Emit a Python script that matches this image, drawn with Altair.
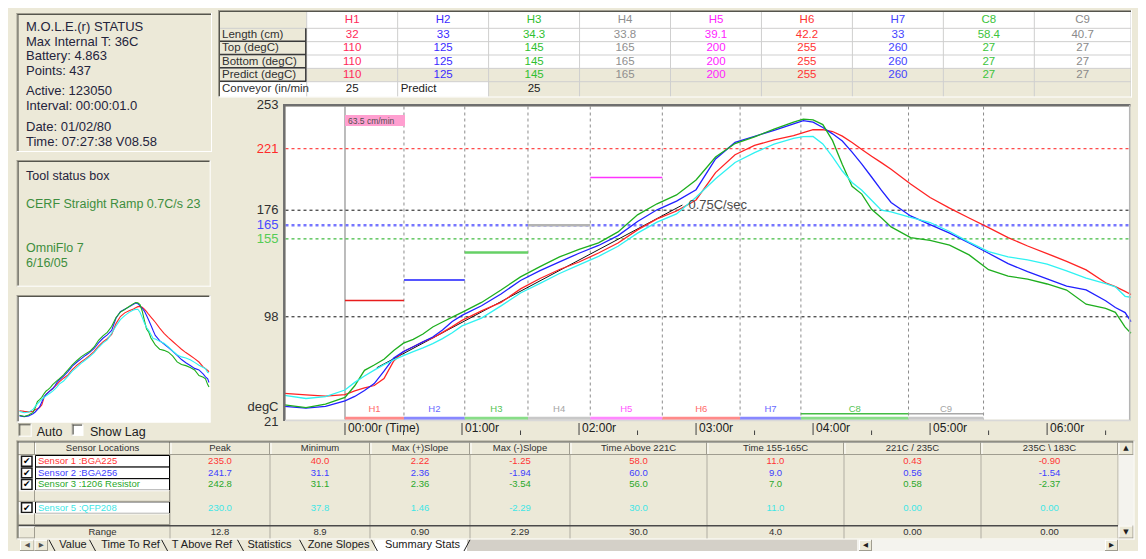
import altair as alt
import numpy as np
import pandas as pd

# ============================ DATA ============================
status_block_1 = ["M.O.L.E.(r) STATUS", "Max Internal T: 36C", "Battery: 4.863", "Points: 437"]
status_block_2 = ["Active: 123050", "Interval: 00:00:01.0"]
status_block_3 = ["Date: 01/02/80", "Time: 07:27:38  V08.58"]
tool_title = "Tool status box"
tool_recipe = "CERF Straight Ramp 0.7C/s 23"
tool_oven = ["OmniFlo 7", "6/16/05"]
checkbox_labels = ["Auto", "Show Lag"]

zones = ["H1", "H2", "H3", "H4", "H5", "H6", "H7", "C8", "C9"]
zone_length_cm = [32, 33, 34.3, 33.8, 39.1, 42.2, 33, 58.4, 40.7]
zone_top_c = [110, 125, 145, 165, 200, 255, 260, 27, 27]
zone_bottom_c = [110, 125, 145, 165, 200, 255, 260, 27, 27]
zone_predict_c = [110, 125, 145, 165, 200, 255, 260, 27, 27]
table_row_labels = ["Length (cm)", "Top (degC)", "Bottom (degC)", "Predict (degC)", "Conveyor (in/min"]
conveyor_in_min = 25
predict_label = "Predict"
predict_conveyor_in_min = 25

time_s = [-31, -20, -10, 0, 5, 10, 15, 20, 25, 30, 35, 40, 45, 50, 55, 60,
          70, 80, 90, 100, 110, 120, 130, 140, 150, 160, 170, 180, 190, 200, 210, 220, 230,
          235, 240, 245, 250, 255, 260, 265, 270, 275, 280,
          290, 300, 310, 320, 330, 340, 350, 360, 370, 380, 390, 395, 400, 403]
sensor1_c = [42.0, 40.8, 40.0, 41.0, 43.7, 45.9, 47.7, 52.8, 65.7, 72.6, 76.1, 79.6, 82.5, 86.6, 90.8, 95.4,
             102.3, 108.5, 118.4, 126.0, 132.6, 138.1, 144.7, 152.0, 161.6, 169.7, 175.4, 183.5, 203.5, 216.6, 223.4, 227.5, 230.6,
             232.7, 234.9, 235.0, 233.6, 230.2, 225.6, 220.4, 215.5, 210.8, 206.0,
             195.2, 185.3, 177.5, 170.3, 163.2, 156.0, 149.8, 144.3, 138.6, 132.3, 122.9, 120.1, 116.6, 114.3]
sensor2_c = [32.5, 31.2, 32.5, 36.4, 39.7, 44.1, 49.1, 58.2, 67.9, 72.5, 76.1, 79.6, 83.2, 88.3, 94.5, 99.0,
             106.1, 114.7, 124.6, 131.8, 138.2, 144.5, 150.2, 157.4, 167.7, 176.3, 182.7, 191.0, 213.5, 225.6, 230.1, 234.5, 239.2,
             241.5, 240.5, 236.5, 231.9, 226.6, 218.5, 209.7, 200.3, 190.7, 181.7,
             171.8, 165.5, 159.2, 152.0, 144.5, 136.9, 131.0, 125.7, 120.5, 117.7, 109.7, 104.8, 101.1, 94.4]
sensor3_c = [33.5, 31.5, 34.0, 39.0, 47.5, 58.8, 62.7, 66.9, 73.4, 78.7, 81.5, 85.4, 90.5, 94.2, 97.7, 101.2,
             108.5, 117.6, 127.2, 134.7, 141.8, 147.4, 152.1, 160.1, 172.6, 180.7, 187.2, 198.1, 214.9, 224.8, 229.7, 235.3, 240.5,
             242.6, 242.1, 238.7, 226.9, 209.5, 193.5, 187.8, 176.7, 170.5, 163.8,
             156.0, 153.9, 150.5, 143.3, 132.5, 127.8, 125.6, 122.0, 117.6, 107.2, 104.2, 101.3, 90.4, 85.9]
sensor5_c = [40.5, 38.2, 39.5, 44.4, 50.0, 54.7, 59.0, 63.0, 66.5, 69.6, 72.5, 75.3, 78.4, 82.0, 86.3, 91.3,
             97.0, 106.0, 115.4, 122.5, 129.7, 136.0, 142.2, 149.6, 159.2, 167.3, 173.3, 185.5, 199.0, 210.9, 218.2, 224.3, 228.6,
             229.8, 230.0, 224.5, 215.0, 204.7, 196.3, 190.6, 183.3, 176.0, 174.8,
             170.7, 167.0, 160.4, 152.7, 145.7, 141.8, 139.6, 136.6, 131.6, 126.3, 122.2, 119.9, 113.0, 112.3]

slope_fit_t = [16.3, 173.0]
slope_fit_c = [60.7, 179.8]
slope_label = "0.75C/sec"

ref_levels = [221, 176, 165, 155, 98]
y_tick_values = [253, 221, 176, 165, 155, 98, 21]
y_unit_label = "degC"
x_major_s = [0, 60, 120, 180, 240, 300, 360]
x_major_labels = ["00:00r (Time)", "01:00r", "02:00r", "03:00r", "04:00r", "05:00r", "06:00r"]
x_minor_s = [30, 90, 150, 210, 270, 330, 390]

sensor_col_header = "Sensor Locations"
slot_names = ["Sensor 1 :BGA225", "Sensor 2 :BGA256", "Sensor 3 :1206 Resistor", "", "Sensor 5 :QFP208", ""]
stat_headers = ["Peak", "Minimum", "Max (+)Slope", "Max (-)Slope", "Time Above 221C", "Time 155-165C",
                "221C / 235C", "235C \\ 183C"]
peak_c = [235.0, 241.7, 242.8, 230.0]
minimum_c = [40.0, 31.1, 31.1, 37.8]
max_pos_slope = [2.22, 2.36, 2.36, 1.46]
max_neg_slope = [-1.25, -1.94, -3.54, -2.29]
time_above_221 = [58.0, 60.0, 56.0, 30.0]
time_155_165 = [11.0, 9.0, 7.0, 11.0]
slope_221_235 = [0.43, 0.56, 0.58, 0.00]
slope_235_183 = [-0.90, -1.54, -2.37, 0.00]
range_label = "Range"
range_row = [12.8, 8.9, 0.90, 2.29, 30.0, 4.0, 0.00, 0.00]
tab_labels = ["Value", "Time To Ref", "T Above Ref", "Statistics", "Zone Slopes", "Summary Stats"]

# ============================ STYLE ============================
FONT = "Liberation Sans"
BG = "#ECE9D8"
TXT = "#24243c"
GREEN_TXT = "#3e8e3e"
DARK, SHADOW, LIGHT = "#55554d", "#a09d90", "#ffffff"
W, H = 1130, 543

zone_text_colors = ["#ff2a5a", "#3b2bff", "#2fc02f", "#8f8f8f", "#ff22ff", "#ff3333", "#4444ff", "#3cc43c", "#8a8a8a"]
zone_set_colors = ["#e81c1c", "#5555ff", "#66d066", "#b4b4b4", "#ff33ff", "#ff4444", "#5555ff", "#44bb44", "#a8a8a8"]
zone_set_widths = [1.5, 2, 2.5, 2.5, 1.5, 1.5, 2, 1.5, 1.5]
zone_bar_colors = ["#ff8a8a", "#8888ff", "#88dd88", "#c8c8c8", "#ff88ff", "#ff8a8a", "#8888ff", "#88dd88", "#c8c8c8"]
zone_tag_colors = ["#ff6a6a", "#6a6aff", "#55c455", "#a5a5a5", "#ff55ff", "#ff6a6a", "#6a6aff", "#55c455", "#a5a5a5"]
sensor_keys = ["S1", "S2", "S3", "S5"]
sensor_line_colors = ["#ff2424", "#2020ff", "#1eae1e", "#2ff2f2"]
sensor_text_colors = ["#ff3535", "#4040ff", "#2aa82a", "#3fe6e6"]
ref_line_colors = ["#ff1a1a", "#111111", "#7676ff", "#11aa11", "#111111"]
ref_line_widths = [1, 1, 2.5, 1, 1]
y_tick_colors = ["#303030", "#ff2a2a", "#303030", "#4a4aff", "#55cc55", "#303030", "#303030"]
stat_formats = [".1f", ".1f", ".2f", ".2f", ".1f", ".1f", ".2f", ".2f"]

one = pd.DataFrame({"k": [0]})
layers = []
add = layers.append


def lin(domain, rng):
    return alt.Scale(domain=list(domain), range=list(rng), nice=False, zero=False)


def qx(f, s):
    return alt.X(f, type="quantitative", scale=s, axis=None)


def qy(f, s):
    return alt.Y(f, type="quantitative", scale=s, axis=None)


def box(x0, y0, x1, y1, fill, stroke=None, sw=1.0):
    kw = {"fill": fill, "strokeWidth": sw if stroke else 0}
    if stroke:
        kw["stroke"] = stroke
    return alt.Chart(one).mark_rect(**kw).encode(
        x=alt.value(x0), x2=alt.value(x1), y=alt.value(y0), y2=alt.value(y1))


def seg(x0, y0, x1, y1, color, w=1.0, dash=None):
    kw = {"color": color, "strokeWidth": w}
    if dash:
        kw["strokeDash"] = dash
    return alt.Chart(one).mark_rule(**kw).encode(
        x=alt.value(x0), x2=alt.value(x1), y=alt.value(y0), y2=alt.value(y1))


def sunken(x0, y0, x1, y1, fill=None):
    out = [box(x0, y0, x1, y1, fill)] if fill else []
    out += [seg(x0, y0 + 0.5, x1, y0 + 0.5, SHADOW), seg(x0 + 0.5, y0, x0 + 0.5, y1, SHADOW),
            seg(x0 + 1, y0 + 1.5, x1 - 1, y0 + 1.5, DARK), seg(x0 + 1.5, y0 + 1, x0 + 1.5, y1 - 1, DARK),
            seg(x0, y1 - 0.5, x1, y1 - 0.5, LIGHT), seg(x1 - 0.5, y0, x1 - 0.5, y1, LIGHT)]
    return out


def raised(x0, y0, x1, y1, fill=BG):
    return [box(x0, y0, x1, y1, fill),
            seg(x0, y0 + 0.5, x1, y0 + 0.5, LIGHT), seg(x0 + 0.5, y0, x0 + 0.5, y1, LIGHT),
            seg(x0, y1 - 0.5, x1, y1 - 0.5, SHADOW), seg(x1 - 0.5, y0, x1 - 0.5, y1, SHADOW)]


def text_at(x, y, s, size=12, color="#202020", align="left", font=FONT):
    return alt.Chart(one).mark_text(text=s, fontSize=size, color=color, align=align,
                                    baseline="middle", font=font).encode(x=alt.value(x), y=alt.value(y))


def text_lines(lines, x, y0, lh, size, color):
    df = pd.DataFrame({"t": lines, "i": list(range(len(lines)))})
    return alt.Chart(df).mark_text(align="left", baseline="middle", fontSize=size, color=color, font=FONT).encode(
        x=alt.value(x), y=qy("i", lin([0, 1], [y0, y0 + lh])), text="t:N")


def zone_color(colors):
    return alt.Color("z:N", scale=alt.Scale(domain=zones, range=colors), legend=None)


def sensor_color(colors):
    return alt.Color("s:N", scale=alt.Scale(domain=sensor_keys, range=colors), legend=None)


# ---- tables built from the arrays ----
curve_df = pd.concat([pd.DataFrame({"t": time_s, "c": v, "s": k})
                      for k, v in zip(sensor_keys, [sensor1_c, sensor2_c, sensor3_c, sensor5_c])])
speed_cm_s = conveyor_in_min * 2.54 / 60.0
zone_end_s = np.cumsum(zone_length_cm) / speed_cm_s
zone_start_s = np.concatenate([[0.0], zone_end_s[:-1]])
zdf = pd.DataFrame({"z": zones, "t0": zone_start_s, "t1": zone_end_s,
                    "tm": (zone_start_s + zone_end_s) / 2, "top": zone_top_c, "w": zone_set_widths})

# ============================ LEFT PANELS ============================
layers += sunken(8.5, 5, 204, 144)
add(text_lines(status_block_1, 18, 19, 14.7, 13, TXT))
add(text_lines(status_block_2, 18, 83, 14.7, 13, TXT))
add(text_lines(status_block_3, 18, 119, 14.7, 13, TXT))

layers += sunken(8.7, 152, 202.7, 278.7)
add(text_at(18, 168, tool_title, 12.5, TXT))
add(text_at(18, 196, tool_recipe, 12.5, GREEN_TXT))
add(text_lines(tool_oven, 18, 240, 15, 12.5, GREEN_TXT))

layers += sunken(8.7, 287, 202.5, 414.5, "#ffffff")
mxs = lin([-31, 403], [11.5, 201])
mys = lin([23, 250], [413, 290.5])
add(alt.Chart(curve_df).mark_line(strokeWidth=1.1).encode(
    x=qx("t", mxs), y=qy("c", mys), color=sensor_color(sensor_line_colors)))

layers += sunken(10.3, 415.3, 23.7, 428.7, BG)
layers += sunken(63.7, 415.7, 75.3, 427.7, "#ffffff")
add(text_at(28.7, 423.7, checkbox_labels[0], 12.5))
add(text_at(82, 423.7, checkbox_labels[1], 12.5))

# ============================ TOP TABLE ============================
add(box(210, 2, 1124, 89.5, BG))
txs = alt.Scale(domain=[0, 8, 9], range=[298.7, 1026.3, 1123.0], nice=False, zero=False)
ROW_D, ROW_R = [-0.5, 0.5, 4.5, 5.5], [3.7, 20.3, 73.7, 88.7]
tys = alt.Scale(domain=ROW_D, range=ROW_R, nice=False, zero=False)
TY = lambda r: float(np.interp(r, ROW_D, ROW_R))

cells = []
for r in range(6):
    for c in range(len(zones)):
        kind = "w" if r <= 3 else ("b" if r == 4 else ("w" if c < 2 else "b"))
        cells.append({"c0": c, "c1": c + 1, "r0": r - 0.5, "r1": r + 0.5, "kind": kind})
cell_df = pd.DataFrame(cells)
add(alt.Chart(cell_df).mark_rect(strokeWidth=0).encode(
    x=qx("c0", txs), x2=alt.X2("c1"), y=qy("r0", tys), y2=alt.Y2("r1"),
    color=alt.Color("kind:N", scale=alt.Scale(domain=["w", "b"], range=["#ffffff", BG]), legend=None)))
add(box(212, TY(4.5), 298.7, TY(5.5), "#ffffff"))

vgrid = pd.DataFrame({"c": list(range(len(zones) + 1))})
add(alt.Chart(vgrid).mark_rule(color="#cfcfcf").encode(x=qx("c", txs), y=alt.value(3.7), y2=alt.value(88.7)))
hgrid = pd.DataFrame({"r": [0.5, 1.5, 2.5, 3.5, 4.5]})
add(alt.Chart(hgrid).mark_rule(color="#cfcfcf").encode(x=alt.value(212), x2=alt.value(1123), y=qy("r", tys)))
btn = pd.DataFrame({"r": [1.5, 2.5, 3.5, 4.5]})
add(alt.Chart(btn).mark_rule(color="#3a3a3a", strokeWidth=1.5, yOffset=-0.5).encode(
    x=alt.value(212), x2=alt.value(298), y=qy("r", tys)))
add(seg(297.8, TY(0.5), 297.8, TY(4.5), "#3a3a3a", 1.5))

ttext = []
for r, vals in enumerate([zones, zone_length_cm, zone_top_c, zone_bottom_c, zone_predict_c]):
    for c, z in enumerate(zones):
        v = vals[c]
        ttext.append({"c": c + 0.5, "r": r, "z": z, "t": v if isinstance(v, str) else f"{v:g}"})
ttext_df = pd.DataFrame(ttext)
add(alt.Chart(ttext_df).mark_text(fontSize=11.5, baseline="middle", font=FONT).encode(
    x=qx("c", txs), y=qy("r", tys), text="t:N", color=zone_color(zone_text_colors)))
rl_df = pd.DataFrame({"r": list(range(1, 6)), "t": table_row_labels})
add(alt.Chart(rl_df).mark_text(fontSize=11.5, baseline="middle", align="left", color="#303030", font=FONT).encode(
    x=alt.value(214), y=qy("r", tys), text="t:N"))
conv_df = pd.DataFrame({"c": [0.5, 2.5], "r": [5, 5], "t": [str(conveyor_in_min), str(predict_conveyor_in_min)]})
add(alt.Chart(conv_df).mark_text(fontSize=11.5, baseline="middle", color="#202020", font=FONT).encode(
    x=qx("c", txs), y=qy("r", tys), text="t:N"))
pl_df = pd.DataFrame({"c": [1], "r": [5], "t": [predict_label]})
add(alt.Chart(pl_df).mark_text(fontSize=11.5, baseline="middle", align="left", dx=3, color="#202020", font=FONT).encode(
    x=qx("c", txs), y=qy("r", tys), text="t:N"))
layers += sunken(210, 2, 1124, 89.5)

# ============================ MAIN CHART ============================
xs = lin([-30.5, 402.5], [277.5, 1122.0])
ys = lin([21, 253], [414.0, 97.0])
PL, PR, PT, PB = 277.5, 1121.0, 98.5, 411.5
add(box(PL, PT, PR, PB, "#ffffff"))

bound_df = pd.DataFrame({"t": zone_end_s})
add(alt.Chart(bound_df).mark_rule(color="#8c8c8c", strokeDash=[3, 3], strokeWidth=1).encode(
    x=qx("t", xs), y=alt.value(PT), y2=alt.value(PB)))
add(alt.Chart(zdf.iloc[:1]).mark_rule(color="#a6a6a6", strokeWidth=1.5).encode(
    x=qx("t0", xs), y=alt.value(PT), y2=alt.value(PB)))

ref_keys = [str(v) for v in ref_levels]
ref_df = pd.DataFrame({"v": ref_levels, "k": ref_keys, "w": ref_line_widths})
add(alt.Chart(ref_df).mark_rule(strokeDash=[3, 3]).encode(
    x=alt.value(PL), x2=alt.value(PR), y=qy("v", ys),
    color=alt.Color("k:N", scale=alt.Scale(domain=ref_keys, range=ref_line_colors), legend=None),
    strokeWidth=alt.StrokeWidth("w:Q", scale=None, legend=None)))

add(alt.Chart(zdf).transform_filter(f"datum.top <= {ys.domain[1]}").mark_rule().encode(
    x=qx("t0", xs), x2=alt.X2("t1"), y=qy("top", ys), color=zone_color(zone_set_colors),
    strokeWidth=alt.StrokeWidth("w:Q", scale=None, legend=None)))
add(alt.Chart(zdf).mark_rule(strokeWidth=3).encode(
    x=qx("t0", xs), x2=alt.X2("t1"), y=alt.value(410.2), color=zone_color(zone_bar_colors)))
add(alt.Chart(zdf).mark_text(fontSize=9.5, baseline="middle", font=FONT).encode(
    x=qx("tm", xs), y=alt.value(401), text="z:N", color=zone_color(zone_tag_colors)))

slope_df = pd.DataFrame({"t0": [slope_fit_t[0]], "t1": [slope_fit_t[1]],
                         "c0": [slope_fit_c[0]], "c1": [slope_fit_c[1]], "lab": [slope_label]})
add(alt.Chart(slope_df).mark_rule(color="#111111", strokeWidth=1).encode(
    x=qx("t0", xs), x2=alt.X2("t1"), y=qy("c0", ys), y2=alt.Y2("c1")))
add(alt.Chart(curve_df).mark_line(strokeWidth=1.3).encode(
    x=qx("t", xs), y=qy("c", ys), color=sensor_color(sensor_line_colors)))
add(alt.Chart(slope_df).mark_text(align="left", baseline="middle", dx=6, fontSize=13, color="#4a4a4a", font=FONT).encode(
    x=qx("t1", xs), y=qy("c1", ys), text="lab:N"))

add(box(337, 107, 397, 118, "#ff9fd0"))
add(text_at(340, 112.5, f"{conveyor_in_min * 2.54:.1f} cm/min", 8.5, "#505050"))

add(seg(276.3, 96, 276.3, 413, "#6f6f6f", 2.5))
add(seg(275, 97.2, 1122.5, 97.2, "#6f6f6f", 2.5))
add(seg(1121.7, 97, 1121.7, 413, "#b5b5b5", 1.5))
add(seg(277, 412.5, 1122.5, 412.5, "#d8d8d8", 1.5))

yt_keys = [str(v) for v in y_tick_values]
yt_df = pd.DataFrame({"v": y_tick_values, "k": yt_keys})
add(alt.Chart(yt_df).mark_text(align="right", baseline="middle", fontSize=13, font=FONT).encode(
    x=alt.value(270.5), y=qy("v", ys), text="k:N",
    color=alt.Color("k:N", scale=alt.Scale(domain=yt_keys, range=y_tick_colors), legend=None)))
add(text_at(270.5, 399, y_unit_label, 13, "#303030", "right"))

xmaj_df = pd.DataFrame({"t": x_major_s, "lab": x_major_labels})
add(alt.Chart(xmaj_df).mark_rule(color="#404040", strokeWidth=1).encode(
    x=qx("t", xs), y=alt.value(415), y2=alt.value(427)))
add(alt.Chart(pd.DataFrame({"t": x_minor_s})).mark_rule(color="#404040", strokeWidth=1).encode(
    x=qx("t", xs), y=alt.value(422.5), y2=alt.value(427)))
add(alt.Chart(xmaj_df).mark_text(align="left", baseline="middle", dx=3, fontSize=12, color="#202020", font=FONT).encode(
    x=qx("t", xs), y=alt.value(419.5), text="lab:N"))

# ============================ BOTTOM TABLE ============================
add(box(8.5, 432.5, 1126, 531, BG))
bxs = alt.Scale(domain=[0, 4, 8], range=[162.0, 562.0, 1110.0], nice=False, zero=False)
bys = lin([-0.5, 5.5], [447.5, 517.0])
HT, HB = 433.7, 447.0

layers += raised(10.5, HT, 27, HB)
layers += raised(27, HT, 162, HB)
hdr_df = pd.DataFrame({"c0": list(range(8)), "c1": list(range(1, 9)),
                       "cm": [i + 0.5 for i in range(8)], "t": stat_headers})
add(alt.Chart(hdr_df).mark_rule(color=LIGHT, xOffset=1).encode(x=qx("c0", bxs), y=alt.value(HT), y2=alt.value(HB)))
add(alt.Chart(hdr_df).mark_rule(color=SHADOW, xOffset=-0.5).encode(x=qx("c1", bxs), y=alt.value(HT), y2=alt.value(HB)))
add(seg(162, HT + 0.5, 1110, HT + 0.5, LIGHT))
add(seg(10.5, HB - 0.5, 1110, HB - 0.5, SHADOW))
add(alt.Chart(hdr_df).mark_text(fontSize=9.5, color="#303030", font=FONT, baseline="middle").encode(
    x=qx("cm", bxs), y=alt.value(440.3), text="t:N"))
add(text_at(94.5, 440.3, sensor_col_header, 9.5, "#303030", "center"))

colg = pd.DataFrame({"c": list(range(9))})
add(alt.Chart(colg).mark_rule(color="#b0ada2").encode(x=qx("c", bxs), y=alt.value(HB), y2=alt.value(531)))

slot_df = pd.DataFrame({"i": list(range(len(slot_names))), "name": slot_names})
slot_df["r0"] = slot_df.i - 0.5
slot_df["r1"] = slot_df.i + 0.5
slot_df["b0"] = slot_df.i - 0.43
slot_df["b1"] = slot_df.i + 0.43
used = slot_df[slot_df.name != ""].copy()
used["s"] = sensor_keys
empty = slot_df[slot_df.name == ""].copy()

add(alt.Chart(used).mark_rect(fill="#ffffff", strokeWidth=0).encode(
    x=alt.value(10.5), x2=alt.value(27), y=qy("r0", bys), y2=alt.Y2("r1")))
add(alt.Chart(used).mark_rect(fill="#ffffff", stroke="#000000", strokeWidth=1).encode(
    x=alt.value(27.5), x2=alt.value(161.5), y=qy("r0", bys), y2=alt.Y2("r1")))
add(alt.Chart(used).mark_rect(fill="#ffffff", stroke="#1a1a1a", strokeWidth=1.5).encode(
    x=alt.value(13.5), x2=alt.value(24), y=qy("b0", bys), y2=alt.Y2("b1")))
add(alt.Chart(used).mark_text(text="\u2714", fontSize=9, color="#000000", font="DejaVu Sans", baseline="middle").encode(
    x=alt.value(18.8), y=qy("i", bys)))
add(alt.Chart(used).mark_text(fontSize=9.5, align="left", baseline="middle", font=FONT).encode(
    x=alt.value(30), y=qy("i", bys), text="name:N", color=sensor_color(sensor_text_colors)))

for x0, x1 in [(10.5, 27), (27, 162)]:
    add(alt.Chart(empty).mark_rect(fill=BG, strokeWidth=0).encode(
        x=alt.value(x0), x2=alt.value(x1), y=qy("r0", bys), y2=alt.Y2("r1")))
    add(alt.Chart(empty).mark_rule(color=LIGHT, yOffset=0.5).encode(
        x=alt.value(x0), x2=alt.value(x1), y=qy("r0", bys)))
    add(alt.Chart(empty).mark_rule(color=SHADOW, yOffset=-0.5).encode(
        x=alt.value(x0), x2=alt.value(x1), y=qy("r1", bys)))
    add(alt.Chart(empty).mark_rule(color=SHADOW).encode(
        x=alt.value(x1 - 0.5), y=qy("r0", bys), y2=alt.Y2("r1")))

stat_cols = [peak_c, minimum_c, max_pos_slope, max_neg_slope, time_above_221, time_155_165,
             slope_221_235, slope_235_183]
vals = []
for k, (i, key) in enumerate(zip(used.i, sensor_keys)):
    for j, col in enumerate(stat_cols):
        vals.append({"cm": j + 0.5, "i": i, "s": key, "t": format(col[k], stat_formats[j])})
vals_df = pd.DataFrame(vals)
add(alt.Chart(vals_df).mark_text(fontSize=9.5, baseline="middle", font=FONT).encode(
    x=qx("cm", bxs), y=qy("i", bys), text="t:N", color=sensor_color(sensor_text_colors)))

add(seg(10.5, 517.8, 1110, 517.8, "#4a4a4a", 1.5))
layers += raised(10.5, 518.6, 27, 530.5)
add(text_at(94.5, 524.4, range_label, 9.5, "#303030", "center"))
rng_df = pd.DataFrame({"cm": [j + 0.5 for j in range(8)],
                       "t": [format(v, f) for v, f in zip(range_row, stat_formats)]})
add(alt.Chart(rng_df).mark_text(fontSize=9.5, baseline="middle", color="#303030", font=FONT).encode(
    x=qx("cm", bxs), y=alt.value(524.4), text="t:N"))

add(box(1110.5, 433, 1125.5, 531, "#f4f3ee"))
layers += raised(1110.5, 433.5, 1125.5, 447)
layers += raised(1110.5, 517.5, 1125.5, 530.5)
add(text_at(1118, 440.3, "\u25b2", 7, "#202020", "center", "DejaVu Sans"))
add(text_at(1118, 524, "\u25bc", 7, "#202020", "center", "DejaVu Sans"))
layers += sunken(8.5, 432.5, 1126.5, 531.5)

# ============================ TABS ============================
TT, TB, TM = 531.8, 543.0, 536.6
layers += raised(12, TT, 26.5, TB)
layers += raised(26.5, TT, 40, TB)
add(text_at(19.3, TM, "\u25c0", 6.5, "#505050", "center", "DejaVu Sans"))
add(text_at(33.3, TM, "\u25b6", 6.5, "#505050", "center", "DejaVu Sans"))
add(box(459, TT, 849, TB, "#d4d0c8"))
add(box(367, TT, 459, TB, "#ffffff"))
for b in [44, 84.5, 156.6, 232.5, 294.6, 366.4]:
    add(seg(b - 3, TT, b + 3, TB, "#202020", 1))
add(seg(462, TT, 456, TB, "#202020", 1))
for lab, cx in zip(tab_labels, [65, 122.5, 194, 261.5, 330.5, 414.5]):
    add(text_at(cx, TM, lab, 11, "#202020", "center"))
add(box(849, TT, 1111, TB, "#f4f3ee"))
layers += raised(851, TT, 864, TB)
layers += raised(1097, TT, 1110, TB)
add(text_at(857.5, TM, "\u25c0", 6.5, "#202020", "center", "DejaVu Sans"))
add(text_at(1103.5, TM, "\u25b6", 6.5, "#202020", "center", "DejaVu Sans"))

chart = alt.layer(*layers).resolve_scale(
    x="independent", y="independent", color="independent", strokeWidth="independent"
).properties(
    width=W, height=H, padding=0, autosize=alt.AutoSizeParams(type="none"), background=BG
).configure_view(strokeWidth=0)

chart.save("out.html", embed_options={"renderer": "svg", "actions": False})
